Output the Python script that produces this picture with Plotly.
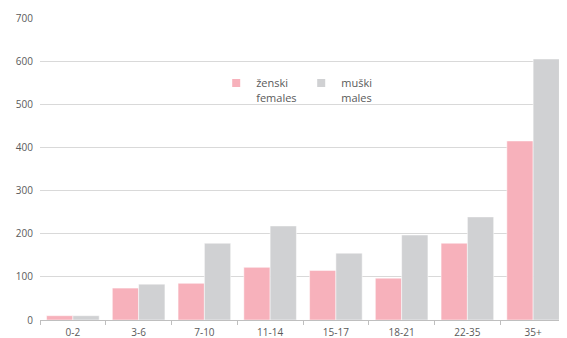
import plotly.graph_objects as go

categories = ["0-2", "3-6", "7-10", "11-14", "15-17", "18-21", "22-35", "35+"]
females = [10, 74, 85, 122, 115, 97, 178, 415]
males = [10, 83, 178, 218, 155, 197, 239, 605]
y_ticks = [0, 100, 200, 300, 400, 500, 600, 700]

PINK = "#F7B1BB"
GREY = "#D0D1D3"

fig = go.Figure()
fig.add_trace(go.Bar(
    x=categories, y=females, name="ženski<br>females", showlegend=False,
    marker=dict(color=PINK, line=dict(color="#FFFFFF", width=0.5))
))
fig.add_trace(go.Bar(
    x=categories, y=males, name="muški<br>males", showlegend=False,
    marker=dict(color=GREY, line=dict(color="#FFFFFF", width=0.5))
))
# small square legend keys, like the original
for name, color in [("ženski<br>females", PINK), ("muški<br>males", GREY)]:
    fig.add_trace(go.Scatter(
        x=[None], y=[None], mode="markers", name=name,
        marker=dict(symbol="square", size=8, color=color)
    ))

# page body has an 8px margin, so the figure is sized and offset for it
fig.update_layout(
    width=559, height=330,
    barmode="group", bargap=0.2, bargroupgap=0,
    plot_bgcolor="white", paper_bgcolor="white",
    font=dict(family="Open Sans", size=11, color="#5A5A5A"),
    margin=dict(l=32, r=1, t=10, b=18, autoexpand=False),
    showlegend=True,
    legend=dict(
        orientation="h", x=0.335, y=0.83, xanchor="left", yanchor="top",
        bgcolor="rgba(0,0,0,0)", valign="top",
        font=dict(size=11, color="#5A5A5A"),
        itemwidth=30, entrywidth=40, traceorder="normal",
    ),
    xaxis=dict(
        showgrid=False, showline=True, linecolor="#BFBFBF", linewidth=1,
        ticks="outside", tickson="boundaries", ticklen=4, tickcolor="#BFBFBF",
        tickfont=dict(size=10, color="#5A5A5A"), automargin=False,
        ticklabelstandoff=3,
    ),
    yaxis=dict(
        range=[0, 700], tickvals=y_ticks, showgrid=True, gridcolor="#D9D9D9",
        gridwidth=1, zeroline=False, showline=False, ticks="",
        tickfont=dict(size=10, color="#5A5A5A"), automargin=False,
        ticklabelstandoff=6,
    ),
)

fig.write_html("out.html")
